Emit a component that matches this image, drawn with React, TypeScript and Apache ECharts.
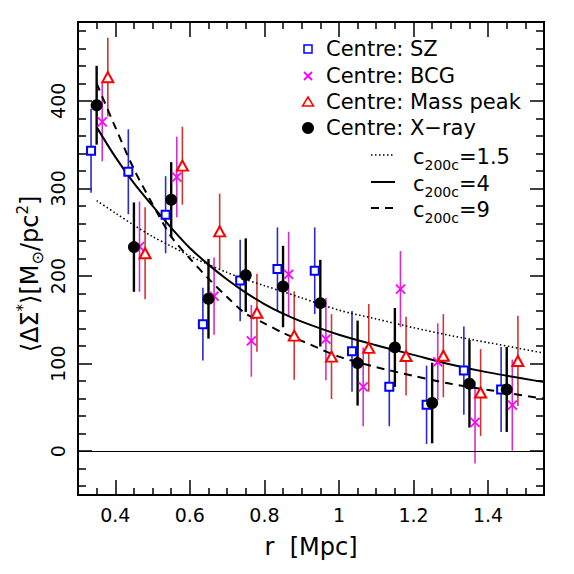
import React, { useEffect, useRef } from "react";
import * as echarts from "echarts";

// ---- data ----
const radii = [0.35, 0.45, 0.55, 0.65, 0.75, 0.85, 0.95, 1.05, 1.15, 1.25, 1.35, 1.45];
const szOffset = -0.015;
const bcgOffset = 0.015;
const massOffset = 0.03;

const szVal = [343, 319, 270, 145, 195, 208, 206, 114, 73.5, 53, 92, 70.5];
const szErr = [48, 48.5, 44, 41.5, 46.5, 47.5, 49.5, 46, 45, 44.7, 50.5, 48.5];

const bcgVal = [376, 233.5, 313, 177, 126, 202, 128, 73.5, 185, 102, 33, 52.6];
const bcgErr = [45, 51.5, 46, 44, 41, 48.5, 47, 45, 43.5, 44, 47, 52];

const massVal = [427, 226, 326, 251, 158, 132, 108, 118, 108.6, 109, 67, 103];
const massErr = [45, 52.5, 44.5, 43, 44.5, 50.5, 48.5, 50, 45, 47.5, 49.5, 51.5];

const xrayVal = [395, 233, 287, 174, 201, 188, 169, 100.6, 118.5, 55, 77, 70.5];
const xrayErr = [45, 51, 43, 45.5, 42, 46.5, 49.5, 48.5, 45, 46, 50, 48.5];

const modelR = [0.35, 0.4, 0.45, 0.5, 0.55, 0.6, 0.65, 0.7, 0.75, 0.8, 0.85, 0.9, 1.0, 1.1, 1.2, 1.3, 1.4, 1.55];
const c15 = [286, 272, 258, 245, 234, 223, 213, 204, 196, 189, 182, 175, 161, 151, 141, 132, 124, 112];
const c4 = [370, 336, 306, 280, 255, 232, 213, 196, 181, 168, 157, 148, 133, 121, 110, 99, 90, 79];
const c9 = [420, 370, 322, 282, 245, 220, 197, 176, 157, 146, 135, 126, 108, 96, 86, 77, 70, 60];

const xMajor = [0.4, 0.6, 0.8, 1.0, 1.2, 1.4];
const xMinor = [0.35, 0.45, 0.5, 0.55, 0.65, 0.7, 0.75, 0.85, 0.9, 0.95, 1.05, 1.1, 1.15, 1.25, 1.3, 1.35, 1.45, 1.5];
const yMajor = [0, 100, 200, 300, 400];
const yMinor = [-40, -20, 20, 40, 60, 80, 120, 140, 160, 180, 220, 240, 260, 280, 320, 340, 360, 380, 420, 440, 460, 480];

const FONT = "DejaVu Sans";

function errSeries(name: string, xs: number[], ys: number[], es: number[], color: string, width: number) {
  return {
    type: "custom",
    name,
    z: 2,
    silent: true,
    xAxisIndex: 0,
    yAxisIndex: 0,
    data: xs.map((x, i) => [x, ys[i] - es[i], ys[i] + es[i]]),
    encode: { x: 0, y: [1, 2] },
    renderItem: (_p: any, api: any) => {
      const lo = api.coord([api.value(0), api.value(1)]);
      const hi = api.coord([api.value(0), api.value(2)]);
      return {
        type: "line",
        shape: { x1: lo[0], y1: lo[1], x2: hi[0], y2: hi[1] },
        style: { stroke: color, lineWidth: width },
      };
    },
  };
}

function xAxisDef(position: string, ticks: number[], len: number, labels: boolean, extra: any = {}) {
  return {
    type: "value",
    min: 0.3,
    max: 1.55,
    position,
    axisLine: { show: true, onZero: false, lineStyle: { color: "#000", width: 2 } },
    axisTick: { show: true, inside: true, length: len, customValues: ticks, lineStyle: { color: "#000", width: 1.5 } },
    axisLabel: labels
      ? {
          show: true,
          customValues: xMajor,
          formatter: (v: number) => String(Math.round(v * 10) / 10),
          fontFamily: FONT,
          fontSize: 19,
          color: "#000",
          margin: 10,
        }
      : { show: false },
    splitLine: { show: false },
    ...extra,
  };
}

function yAxisDef(position: string, ticks: number[], len: number, labels: boolean) {
  return {
    type: "value",
    min: -50,
    max: 490,
    position,
    axisLine: { show: true, onZero: false, lineStyle: { color: "#000", width: 2 } },
    axisTick: { show: true, inside: true, length: len, customValues: ticks, lineStyle: { color: "#000", width: 1.5 } },
    axisLabel: labels
      ? {
          show: true,
          customValues: yMajor,
          rotate: 90,
          fontFamily: FONT,
          fontSize: 19,
          color: "#000",
          margin: 11,
        }
      : { show: false },
    splitLine: { show: false },
  };
}

export default function App() {
  const ref = useRef<HTMLDivElement>(null);
  useEffect(() => {
    if (!ref.current) return;
    const chart = echarts.init(ref.current, null, { renderer: "svg" });

    const rowY = [49, 76, 102, 128];
    const lineRowY = [155, 182, 208];
    const symX = 308;
    const textX = 326;
    const legendText = ["Centre: SZ", "Centre: BCG", "Centre: Mass peak", "Centre: X\u2212ray"];

    const graphic: any[] = [
      // y-axis title
      {
        type: "text",
        x: 30,
        y: 274,
        rotation: Math.PI / 2,
        style: {
          text: "{m|\u27E8\u0394\u03A3}{sup|*}{m|\u27E9[M}{sub|\u2299}{m|/pc}{sup|2}{m|]}",
          align: "center",
          verticalAlign: "middle",
          fill: "#000",
          rich: {
            m: { fontFamily: FONT, fontSize: 24, color: "#000", verticalAlign: "middle", lineHeight: 30 },
            sup: { fontFamily: FONT, fontSize: 15, color: "#000", verticalAlign: "top", lineHeight: 30, padding: [0, 0, 12, 0] },
            sub: { fontFamily: FONT, fontSize: 16, color: "#000", verticalAlign: "bottom", lineHeight: 30, padding: [10, 0, 0, 0] },
          },
        },
      },
      // legend symbols
      { type: "rect", shape: { x: symX - 4, y: rowY[0] - 4, width: 8, height: 8 }, style: { fill: "#fff", stroke: "#0000ff", lineWidth: 1.5 } },
      { type: "line", shape: { x1: symX - 4, y1: rowY[1] - 4, x2: symX + 4, y2: rowY[1] + 4 }, style: { stroke: "#ff00ff", lineWidth: 1.8 } },
      { type: "line", shape: { x1: symX + 4, y1: rowY[1] - 4, x2: symX - 4, y2: rowY[1] + 4 }, style: { stroke: "#ff00ff", lineWidth: 1.8 } },
      { type: "polygon", shape: { points: [[symX, rowY[2] - 5], [symX + 5.5, rowY[2] + 4], [symX - 5.5, rowY[2] + 4]] }, style: { fill: "#fff", stroke: "#ff0000", lineWidth: 1.5 } },
      { type: "circle", shape: { cx: symX, cy: rowY[3], r: 6 }, style: { fill: "#000" } },
      // legend line samples
      { type: "line", shape: { x1: 371, y1: lineRowY[0], x2: 395, y2: lineRowY[0] }, style: { stroke: "#000", lineWidth: 1.6, lineDash: [1.5, 2.5] } },
      { type: "line", shape: { x1: 371, y1: lineRowY[1], x2: 395, y2: lineRowY[1] }, style: { stroke: "#000", lineWidth: 2 } },
      { type: "line", shape: { x1: 371, y1: lineRowY[2], x2: 395, y2: lineRowY[2] }, style: { stroke: "#000", lineWidth: 2, lineDash: [8, 6] } },
    ];
    legendText.forEach((t, i) => {
      graphic.push({
        type: "text",
        x: textX,
        y: rowY[i],
        style: { text: t, fontFamily: FONT, fontSize: 21, fill: "#000", verticalAlign: "middle", align: "left" },
      });
    });
    ["1.5", "4", "9"].forEach((c, i) => {
      graphic.push({
        type: "text",
        x: 413,
        y: lineRowY[i] + 2,
        style: {
          text: "{m|c}{s|200c}{m|=" + c + "}",
          verticalAlign: "middle",
          align: "left",
          rich: {
            m: { fontFamily: FONT, fontSize: 21, color: "#000", verticalAlign: "middle", lineHeight: 30 },
            s: { fontFamily: FONT, fontSize: 14, color: "#000", verticalAlign: "bottom", lineHeight: 30, padding: [12, 0, 0, 0] },
          },
        },
      });
    });

    const option: any = {
      animation: false,
      backgroundColor: "#fff",
      grid: { left: 78, right: 30, top: 22, bottom: 79 },
      xAxis: [
        xAxisDef("bottom", xMajor, 15, true, {
          name: "r  [Mpc]",
          nameLocation: "middle",
          nameGap: 40,
          nameTextStyle: { fontFamily: FONT, fontSize: 24, color: "#000" },
        }),
        xAxisDef("bottom", xMinor, 7, false),
        xAxisDef("top", xMajor, 15, false),
        xAxisDef("top", xMinor, 7, false),
      ],
      yAxis: [
        yAxisDef("left", yMajor, 14, true),
        yAxisDef("left", yMinor, 8, false),
        yAxisDef("right", yMajor, 14, false),
        yAxisDef("right", yMinor, 8, false),
      ],
      graphic,
      series: [
        errSeries("SZ err", radii.map((r) => r + szOffset), szVal, szErr, "#2a2ad0", 1.6),
        errSeries("BCG err", radii.map((r) => r + bcgOffset), bcgVal, bcgErr, "#d030d0", 1.6),
        errSeries("Mass peak err", radii.map((r) => r + massOffset), massVal, massErr, "#d03535", 1.6),
        errSeries("X-ray err", radii, xrayVal, xrayErr, "#000", 2.4),
        {
          type: "line",
          name: "c200c=1.5",
          z: 3,
          data: modelR.map((r, i) => [r, c15[i]]),
          smooth: 0.3,
          showSymbol: false,
          silent: true,
          lineStyle: { color: "#000", width: 1.6, type: [1.5, 2.5] },
          markLine: {
            silent: true,
            symbol: "none",
            label: { show: false },
            lineStyle: { color: "#000", width: 1.2, type: "solid" },
            data: [{ yAxis: 0 }],
          },
        },
        {
          type: "line",
          name: "c200c=4",
          z: 3,
          data: modelR.map((r, i) => [r, c4[i]]),
          smooth: 0.3,
          showSymbol: false,
          silent: true,
          lineStyle: { color: "#000", width: 2, type: "solid" },
        },
        {
          type: "line",
          name: "c200c=9",
          z: 3,
          data: modelR.map((r, i) => [r, c9[i]]),
          smooth: 0.3,
          showSymbol: false,
          silent: true,
          lineStyle: { color: "#000", width: 2, type: [8, 6] },
        },
        {
          type: "scatter",
          name: "Centre: SZ",
          z: 4,
          data: radii.map((r, i) => [r + szOffset, szVal[i]]),
          symbol: "emptyRect",
          symbolSize: 8,
          itemStyle: { color: "#0000ff", borderWidth: 1.5, opacity: 1 },
        },
        {
          type: "scatter",
          name: "Centre: BCG",
          z: 4,
          data: radii.map((r, i) => [r + bcgOffset, bcgVal[i]]),
          symbol: "path://M0,0L10,10M10,0L0,10",
          symbolSize: 9,
          itemStyle: { color: "rgba(0,0,0,0)", borderColor: "#ff00ff", borderWidth: 1.8, opacity: 1 },
        },
        {
          type: "scatter",
          name: "Centre: Mass peak",
          z: 4,
          data: radii.map((r, i) => [r + massOffset, massVal[i]]),
          symbol: "emptyTriangle",
          symbolSize: [11, 10],
          itemStyle: { color: "#ff0000", borderWidth: 1.5, opacity: 1 },
        },
        {
          type: "scatter",
          name: "Centre: X-ray",
          z: 5,
          data: radii.map((r, i) => [r, xrayVal[i]]),
          symbol: "circle",
          symbolSize: 12,
          itemStyle: { color: "#000", opacity: 1 },
        },
      ],
    };
    chart.setOption(option);
    return () => chart.dispose();
  }, []);
  return <div ref={ref} style={{ position: "fixed", left: 0, top: 0, width: 574, height: 574, background: "#fff" }} />;
}
